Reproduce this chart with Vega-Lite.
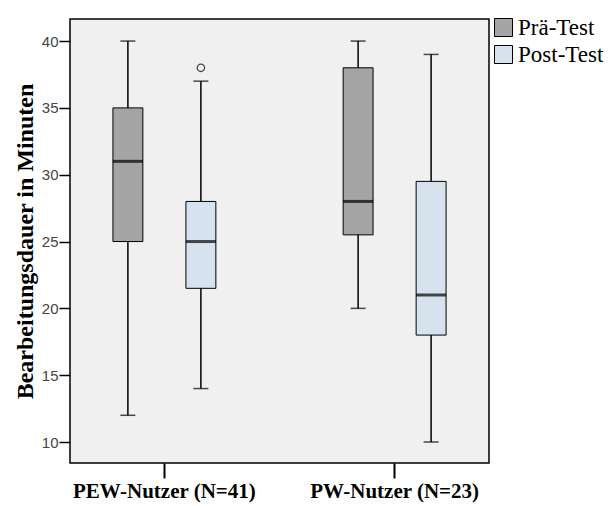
{
  "$schema": "https://vega.github.io/schema/vega-lite/v6.json",
  "width": 419,
  "height": 444,
  "autosize": {"type": "none"},
  "padding": {"left": 70, "top": 19, "right": 124, "bottom": 43},
  "background": "white",
  "config": {
    "view": {"fill": "#f0f0f0", "stroke": "black", "strokeWidth": 1.5},
    "axis": {"grid": false, "domain": false}
  },
  "datasets": {
    "boxes": [
      {"gruppe": "PEW-Nutzer (N=41)", "test": "Prä-Test", "min": 12, "q1": 25, "median": 31, "q3": 35, "max": 40},
      {"gruppe": "PEW-Nutzer (N=41)", "test": "Post-Test", "min": 14, "q1": 21.5, "median": 25, "q3": 28, "max": 37},
      {"gruppe": "PW-Nutzer (N=23)", "test": "Prä-Test", "min": 20, "q1": 25.5, "median": 28, "q3": 38, "max": 40},
      {"gruppe": "PW-Nutzer (N=23)", "test": "Post-Test", "min": 10, "q1": 18, "median": 21, "q3": 29.5, "max": 39}
    ],
    "outliers": [
      {"gruppe": "PEW-Nutzer (N=41)", "test": "Post-Test", "wert": 38}
    ]
  },
  "data": {"name": "boxes"},
  "encoding": {
    "x": {
      "field": "gruppe", "type": "nominal",
      "scale": {"domain": ["PEW-Nutzer (N=41)", "PW-Nutzer (N=23)"], "paddingInner": 0.18, "paddingOuter": 0},
      "axis": {
        "title": null, "labelAngle": 0, "labelFont": "Liberation Serif", "labelFontSize": 21,
        "labelFontWeight": "bold", "labelColor": "black", "tickSize": 15, "tickWidth": 2,
        "tickColor": "black", "labelPadding": 2, "labelLimit": 400
      }
    },
    "xOffset": {
      "field": "test", "type": "nominal",
      "scale": {"domain": ["Prä-Test", "Post-Test"], "paddingInner": 0.59, "paddingOuter": 0.588}
    }
  },
  "layer": [
    {
      "mark": {"type": "rule", "color": "black", "strokeWidth": 1.5},
      "encoding": {
        "y": {
          "field": "min", "type": "quantitative",
          "scale": {"domain": [8.43, 41.65], "nice": false, "zero": false},
          "axis": {
            "title": "Bearbeitungsdauer in Minuten", "values": [10, 15, 20, 25, 30, 35, 40],
            "titleFont": "Liberation Serif", "titleFontSize": 24, "titleFontWeight": "bold",
            "titleColor": "black", "titlePadding": 4, "titleLimit": 500,
            "labelFont": "Liberation Sans", "labelFontSize": 15, "labelColor": "#444444",
            "tickSize": 11, "tickWidth": 1.5, "tickColor": "black", "labelPadding": 1
          }
        },
        "y2": {"field": "max"}
      }
    },
    {
      "mark": {"type": "tick", "color": "black", "size": 15, "thickness": 1.5},
      "encoding": {"y": {"field": "min", "type": "quantitative"}}
    },
    {
      "mark": {"type": "tick", "color": "black", "size": 15, "thickness": 1.5},
      "encoding": {"y": {"field": "max", "type": "quantitative"}}
    },
    {
      "mark": {"type": "bar", "stroke": "black", "strokeWidth": 1},
      "encoding": {
        "y": {"field": "q1", "type": "quantitative"},
        "y2": {"field": "q3"},
        "fill": {
          "field": "test", "type": "nominal",
          "scale": {"domain": ["Prä-Test", "Post-Test"], "range": ["#a4a4a4", "#d6e3ef"]},
          "legend": {
            "title": null, "orient": "none", "legendX": 422, "legendY": -3,
            "symbolType": "square", "symbolSize": 324, "symbolStrokeColor": "black",
            "symbolStrokeWidth": 1, "symbolOpacity": 1,
            "labelFont": "Liberation Serif", "labelFontSize": 23, "labelColor": "black",
            "labelOffset": 3, "rowPadding": 3, "labelLimit": 200
          }
        }
      }
    },
    {
      "mark": {"type": "tick", "color": "black", "size": 30, "thickness": 3},
      "encoding": {"y": {"field": "median", "type": "quantitative"}}
    },
    {
      "data": {"name": "outliers"},
      "mark": {"type": "point", "shape": "circle", "color": "black", "filled": false, "size": 55, "strokeWidth": 1.3},
      "encoding": {"y": {"field": "wert", "type": "quantitative"}}
    }
  ]
}
